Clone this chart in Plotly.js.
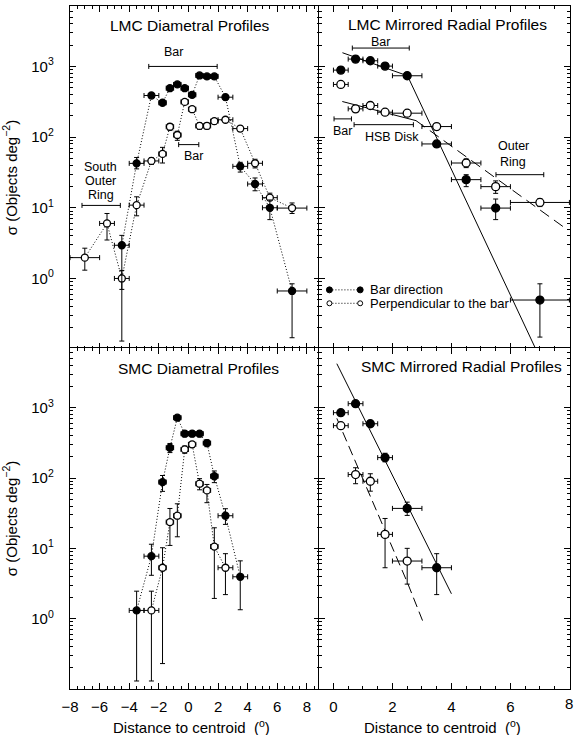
<!DOCTYPE html>
<html><head><meta charset="utf-8">
<script src="https://cdn.plot.ly/plotly-3.0.1.min.js"></script>
<style>html,body{margin:0;padding:0;background:#fff;overflow:hidden;}#chart{width:580px;height:735px;}</style>
</head><body><div id="chart"></div>
<script>
// ---------- LMC diametral profiles ----------
const lmcDiamBarX  = [-4.5, -3.5, -2.5, -1.75, -1.25, -0.75, -0.25, 0.25, 0.75, 1.25, 1.75, 2.5, 3.5, 4.5, 5.5, 7.0];
const lmcDiamBarY  = [2.95, 42.5, 388, 306, 492, 556, 492, 397, 745, 722, 722, 367, 38.6, 21.7, 10.0, 0.665];
const lmcDiamBarXe = [0.5, 0.5, 0.5, 0.25, 0.25, 0.25, 0.25, 0.25, 0.25, 0.25, 0.25, 0.5, 0.5, 0.5, 0.5, 1.0];
const lmcDiamBarYp = [1.12, 9, 25, 25, 30, 30, 30, 30, 40, 40, 40, 30, 5.4, 4.7, 2.9, 0.175];
const lmcDiamBarYm = [2.82, 7, 25, 25, 30, 30, 30, 30, 40, 40, 40, 30, 6.6, 4.3, 3.2, 0.52];

const lmcDiamPerpX  = [-7.0, -5.5, -4.5, -3.5, -2.5, -1.75, -1.25, -0.75, -0.25, 0.25, 0.75, 1.25, 1.75, 2.5, 3.5, 4.5, 5.5, 7.0];
const lmcDiamPerpY  = [1.97, 6.0, 1.0, 10.9, 46, 57.8, 140, 107, 315, 248, 144, 144, 168, 176, 132, 42.6, 13.9, 9.9];
const lmcDiamPerpXe = [1.0, 0.5, 0.5, 0.5, 0.5, 0.25, 0.25, 0.25, 0.25, 0.25, 0.25, 0.25, 0.25, 0.5, 0.5, 0.5, 0.5, 1.0];
const lmcDiamPerpYp = [0.71, 2.3, 0.3, 3.4, 5, 13.8, 15, 14, 20, 20, 15, 15, 15, 12, 12, 6, 2.2, 1.8];
const lmcDiamPerpYm = [0.66, 2.5, 0.3, 3.2, 5, 14.8, 15, 17, 20, 20, 15, 15, 15, 12, 12, 6, 1.3, 1.6];

const lmcDiamBracketX0 = [-2.68, -0.66, -7.19];
const lmcDiamBracketX1 = [1.94, 0.70, -4.60];
const lmcDiamBracketY  = [1000, 78.3, 10.8];
const lmcDiamLabelText = ['Bar', 'Bar', 'South<br>Outer<br>Ring'];
const lmcDiamLabelX    = [-1.03, 0.32, -5.91];
const lmcDiamLabelY    = [1585, 54.7, 23.8];

// ---------- LMC mirrored radial profiles ----------
const lmcRadX   = [0.25, 0.75, 1.25, 1.75, 2.5, 3.5, 4.5, 5.5, 7.0];
const lmcRadXe  = [0.25, 0.25, 0.25, 0.25, 0.5, 0.5, 0.5, 0.5, 1.0];
const lmcRadBarY  = [887, 1270, 1203, 1010, 738, 80, 25, 9.9, 0.495];
const lmcRadBarYp = [60, 60, 60, 60, 50, 8, 4.4, 3.4, 0.345];
const lmcRadBarYm = [60, 60, 60, 60, 50, 8, 5.1, 3.1, 0.347];
const lmcRadPerpY  = [556, 251, 280, 225, 218, 141, 43, 19.9, 11.9];
const lmcRadPerpYp = [35, 25, 25, 20, 20, 15, 6, 4.1, 1.5];
const lmcRadPerpYm = [35, 25, 25, 20, 20, 15, 6, 3.9, 1.5];

const lmcRadBarFitX = [0.305, 2.51, 6.86];
const lmcRadBarFitY = [1563, 738, 0.1];
const lmcRadPerpFitInnerX = [0.30, 2.80];
const lmcRadPerpFitInnerY = [319, 171];
const lmcRadPerpFitOuterX = [2.80, 7.83];
const lmcRadPerpFitOuterY = [171, 5.25];

const lmcRadBracketX0 = [0.64, 0.02, 0.70, 5.51];
const lmcRadBracketX1 = [2.57, 0.61, 2.71, 7.13];
const lmcRadBracketY  = [1820, 181, 150, 29.4];
const lmcRadLabelText = ['Bar', 'Bar', 'HSB Disk', 'Outer<br>Ring'];
const lmcRadLabelX    = [1.61, 0.31, 1.97, 6.10];
const lmcRadLabelY    = [2213, 124, 99.3, 57.8];

// ---------- SMC diametral profiles ----------
const smcDiamBarX  = [-3.5, -2.5, -1.75, -1.25, -0.75, -0.25, 0.25, 0.75, 1.25, 1.75, 2.5, 3.5];
const smcDiamBarY  = [1.31, 7.74, 87.6, 270, 721, 427, 427, 427, 314, 106, 29.1, 3.94];
const smcDiamBarXe = [0.5, 0.5, 0.25, 0.25, 0.25, 0.25, 0.25, 0.25, 0.25, 0.25, 0.5, 0.5];
const smcDiamBarYp = [1.15, 3.7, 21, 40, 50, 40, 40, 40, 35, 20, 7.5, 2.7];
const smcDiamBarYm = [1.18, 3.6, 23, 40, 50, 40, 40, 40, 35, 20, 7.2, 2.6];

const smcDiamPerpX  = [-2.5, -1.75, -1.25, -0.75, -0.25, 0.25, 0.75, 1.25, 1.75, 2.5];
const smcDiamPerpY  = [1.31, 5.3, 23.6, 29.1, 255, 301, 83, 66.7, 10.6, 5.3];
const smcDiamPerpXe = [0.5, 0.25, 0.25, 0.25, 0.25, 0.25, 0.25, 0.25, 0.25, 0.5];
const smcDiamPerpYp = [1.15, 4.9, 13.3, 13.9, 30, 30, 15, 14.3, 9, 3.1];
const smcDiamPerpYm = [1.18, 5.07, 12.6, 14.5, 30, 30, 15, 22.1, 8.66, 3.1];

// ---------- SMC mirrored radial profiles ----------
const smcRadBarX  = [0.25, 0.75, 1.25, 1.75, 2.5, 3.5];
const smcRadBarXe = [0.25, 0.25, 0.25, 0.25, 0.5, 0.5];
const smcRadBarY  = [849, 1140, 591, 195, 37, 5.3];
const smcRadBarYp = [50, 70, 40, 30, 8.4, 3.1];
const smcRadBarYm = [50, 70, 40, 25, 7.6, 3.1];
const smcRadPerpX  = [0.25, 0.75, 1.25, 1.75, 2.5];
const smcRadPerpXe = [0.25, 0.25, 0.25, 0.25, 0.5];
const smcRadPerpY  = [555, 112, 90, 15.8, 6.6];
const smcRadPerpYp = [35, 28, 25, 10.8, 3.4];
const smcRadPerpYm = [35, 29, 25, 10.5, 3.5];

const smcRadBarFitX = [0.115, 4.0];
const smcRadBarFitY = [4227, 2.26];
const smcRadPerpFitX = [0.115, 2.51, 3.02];
const smcRadPerpFitY = [705, 3.24, 0.94];

// ---------- text / ticks ----------
const panelTitles = ['LMC Diametral Profiles', 'LMC Mirrored Radial Profiles', 'SMC Diametral Profiles', 'SMC Mirrored Radial Profiles'];
const legendLabels = ['Bar direction', 'Perpendicular to the bar'];
const xTickValsDiam = [-8, -6, -4, -2, 0, 2, 4, 6, 8];
const xTickValsRad = [0, 2, 4, 6, 8];
const yTickVals = [1, 10, 100, 1000];
const yTickText = ['10<sup>0</sup>', '10<sup>1</sup>', '10<sup>2</sup>', '10<sup>3</sup>'];
const yTitle = '\u03c3 (Objects deg<sup>\u22122</sup>)';
const xTitle = 'Distance to centroid\u00a0\u00a0(<sup>o</sup>)';

// ---------- build ----------
const FONT = 'Liberation Sans, Arial, Helvetica, sans-serif';
const DOTS = '1px,2px';
const LW = 1.2;

function pts(x, y, xe, yp, ym, xa, ya, filled, size, connect) {
  return {
    type: 'scatter', x: x, y: y, xaxis: xa, yaxis: ya,
    mode: connect ? 'lines+markers' : 'markers',
    line: {color: '#000', width: 1, dash: DOTS},
    marker: {symbol: 'circle', size: size, color: filled ? '#000' : '#fff', line: {color: '#000', width: 1.3}},
    error_x: {type: 'data', array: xe, color: '#000', thickness: 1, width: 2.5},
    error_y: {type: 'data', symmetric: false, array: yp, arrayminus: ym, color: '#000', thickness: 1, width: 2.5},
    hoverinfo: 'skip', showlegend: false
  };
}
function fit(x, y, xa, ya, dash) {
  return {type: 'scatter', mode: 'lines', x: x, y: y, xaxis: xa, yaxis: ya,
    line: {color: '#000', width: 1, dash: dash}, hoverinfo: 'skip', showlegend: false};
}
function brackets(x0, x1, y, xa, ya) {
  const mid = x0.map((v, i) => (v + x1[i]) / 2);
  const half = x0.map((v, i) => (x1[i] - v) / 2);
  return {type: 'scatter', mode: 'markers', x: mid, y: y, xaxis: xa, yaxis: ya,
    marker: {size: 2, color: 'rgba(0,0,0,0)'},
    error_x: {type: 'data', array: half, color: '#000', thickness: 1, width: 2.5},
    hoverinfo: 'skip', showlegend: false};
}

const traces = [
  brackets(lmcDiamBracketX0, lmcDiamBracketX1, lmcDiamBracketY, 'x', 'y'),
  pts(lmcDiamPerpX, lmcDiamPerpY, lmcDiamPerpXe, lmcDiamPerpYp, lmcDiamPerpYm, 'x', 'y', false, 7, true),
  pts(lmcDiamBarX, lmcDiamBarY, lmcDiamBarXe, lmcDiamBarYp, lmcDiamBarYm, 'x', 'y', true, 7, true),

  fit(lmcRadBarFitX, lmcRadBarFitY, 'x2', 'y2', 'solid'),
  fit(lmcRadPerpFitInnerX, lmcRadPerpFitInnerY, 'x2', 'y2', 'solid'),
  fit(lmcRadPerpFitOuterX, lmcRadPerpFitOuterY, 'x2', 'y2', '11px,6px'),
  brackets(lmcRadBracketX0, lmcRadBracketX1, lmcRadBracketY, 'x2', 'y2'),
  pts(lmcRadX, lmcRadPerpY, lmcRadXe, lmcRadPerpYp, lmcRadPerpYm, 'x2', 'y2', false, 8, false),
  pts(lmcRadX, lmcRadBarY, lmcRadXe, lmcRadBarYp, lmcRadBarYm, 'x2', 'y2', true, 8, false),

  pts(smcDiamPerpX, smcDiamPerpY, smcDiamPerpXe, smcDiamPerpYp, smcDiamPerpYm, 'x3', 'y3', false, 7, true),
  pts(smcDiamBarX, smcDiamBarY, smcDiamBarXe, smcDiamBarYp, smcDiamBarYm, 'x3', 'y3', true, 7, true),

  fit(smcRadBarFitX, smcRadBarFitY, 'x4', 'y4', 'solid'),
  fit(smcRadPerpFitX, smcRadPerpFitY, 'x4', 'y4', '10px,5px'),
  pts(smcRadPerpX, smcRadPerpY, smcRadPerpXe, smcRadPerpYp, smcRadPerpYm, 'x4', 'y4', false, 8, false),
  pts(smcRadBarX, smcRadBarY, smcRadBarXe, smcRadBarYp, smcRadBarYm, 'x4', 'y4', true, 8, false)
];

const minorLog = [];
for (let d = -1; d <= 3; d++) for (let k = 2; k <= 9; k++) minorLog.push(k * Math.pow(10, d));

const fmtTick = v => v < 0 ? '\u2212' + Math.abs(v) : String(v);
function xAxis(range, domain, anchor, labels, tickvals) {
  return {
    domain: domain, anchor: anchor, range: range,
    showline: true, linecolor: '#000', linewidth: LW, mirror: 'ticks',
    ticks: 'inside', ticklen: 6, tickwidth: 1, tickcolor: '#000',
    tickmode: 'array', tickvals: tickvals, ticktext: tickvals.map(fmtTick),
    minor: {ticks: 'inside', ticklen: 3, tickwidth: 1, tickcolor: '#000', dtick: 0.5, tick0: 0, showgrid: false},
    showgrid: false, zeroline: false, showticklabels: labels, ticklabelstandoff: 4,
    ticklabeloverflow: 'allow',
    tickfont: {family: FONT, size: 15, color: '#000'}, fixedrange: true
  };
}
function yAxis(range, domain, anchor, labels) {
  const a = {
    domain: domain, anchor: anchor, type: 'log', range: range,
    showline: true, linecolor: '#000', linewidth: LW, mirror: 'ticks',
    ticks: 'inside', ticklen: 6, tickwidth: 1, tickcolor: '#000',
    tickmode: 'array', tickvals: yTickVals, ticktext: yTickText,
    minor: {tickmode: 'array', tickvals: minorLog, ticks: 'inside', ticklen: 3, tickwidth: 1, tickcolor: '#000', showgrid: false},
    showgrid: false, zeroline: false, showticklabels: labels, ticklabelstandoff: 12,
    tickfont: {family: FONT, size: 15, color: '#000'}, fixedrange: true
  };
  if (labels) a.title = {text: yTitle, font: {family: FONT, size: 15, color: '#000'}, standoff: 10};
  return a;
}

// split positions, nudged so the shared borders of neighbouring panels coincide
const PW = 500, PH = 683;
const sx = 0.4986, sy = 0.4985;
const XL = [0, sx + LW / 2 / PW], XR = [sx - LW / 2 / PW, 1];
const YT = [sy - LW / 2 / PH, 1], YB = [0, sy + LW / 2 / PH];
const log = Math.log10;

const annotations = [];
function label(text, x, y, xref, yref, size, extra, spacing) {
  const lines = text.split('<br>');
  const n = lines.length;
  lines.forEach((ln, j) => {
    annotations.push(Object.assign({text: ln, x: x, y: y, xref: xref, yref: yref, showarrow: false,
      font: {family: FONT, size: size, color: '#000'}, xanchor: 'center', yanchor: 'middle',
      yshift: ((n - 1) / 2 - j) * (spacing || 14)}, extra || {}));
  });
}
label(panelTitles[0], 0.481, 0.944, 'x domain', 'y domain', 15.5);
label(panelTitles[1], 0.511, 0.947, 'x2 domain', 'y2 domain', 15.5);
label(panelTitles[2], 0.515, 0.940, 'x3 domain', 'y3 domain', 15.5);
label(panelTitles[3], 0.568, 0.947, 'x4 domain', 'y4 domain', 15.5);
lmcDiamLabelText.forEach((t, i) => label(t, lmcDiamLabelX[i], log(lmcDiamLabelY[i]), 'x', 'y', 12.5, null, 13.8));
lmcRadLabelText.forEach((t, i) => label(t, lmcRadLabelX[i], log(lmcRadLabelY[i]), 'x2', 'y2', 12.5, null, 15.3));
label(legendLabels[0], 0.195, 0.1727, 'x2 domain', 'y2 domain', 13, {xanchor: 'left'});
label(legendLabels[1], 0.195, 0.1336, 'x2 domain', 'y2 domain', 13, {xanchor: 'left'});
// x-axis titles (bottom row)
label(xTitle, 0.488, -0.0555, 'x3 domain', 'paper', 15);
label(xTitle, 0.493, -0.0555, 'x4 domain', 'paper', 15);
// the last radial tick label sits on the panel's right edge, where Plotly drops it; place it explicitly
const radAxisTicks = xTickValsRad.slice(0, -1);
const edgeTick = xTickValsRad[xTickValsRad.length - 1];
label(fmtTick(edgeTick), edgeTick, -0.0215, 'x4', 'paper', 15);

const shapes = [];
[[0.1727, true, 3], [0.1336, false, 2.5]].forEach(([yy, filled, r]) => {
  shapes.push({type: 'line', xref: 'x2 domain', yref: 'y2 domain', x0: 0.0427, x1: 0.165, y0: yy, y1: yy,
    line: {color: '#000', width: 1, dash: DOTS}});
  [0.0427, 0.165].forEach(xx => shapes.push({type: 'circle', xref: 'x2 domain', yref: 'y2 domain',
    xsizemode: 'pixel', ysizemode: 'pixel', xanchor: xx, yanchor: yy, x0: -r, x1: r, y0: -r, y1: r,
    fillcolor: filled ? '#000' : '#fff', line: {color: '#000', width: 1}}));
});

const layout = {
  width: 580, height: 735,
  margin: {l: 70, r: 10, t: 6, b: 46, pad: 0},
  paper_bgcolor: '#fff', plot_bgcolor: '#fff',
  font: {family: FONT, color: '#000'},
  showlegend: false,
  xaxis:  xAxis([-8, 8.88], XL, 'y', false, xTickValsDiam),
  yaxis:  yAxis([-1, 3.855], YT, 'x', true),
  xaxis2: xAxis([-0.5, 8.02], XR, 'y2', false, radAxisTicks),
  yaxis2: yAxis([-1, 3.855], YT, 'x2', false),
  xaxis3: xAxis([-8, 8.88], XL, 'y3', true, xTickValsDiam),
  yaxis3: yAxis([-1, 3.85], YB, 'x3', true),
  xaxis4: xAxis([-0.5, 8.02], XR, 'y4', true, radAxisTicks),
  yaxis4: yAxis([-1, 3.85], YB, 'x4', false),
  annotations: annotations,
  shapes: shapes
};

Plotly.newPlot('chart', traces, layout, {staticPlot: true, displayModeBar: false});
</script></body></html>
